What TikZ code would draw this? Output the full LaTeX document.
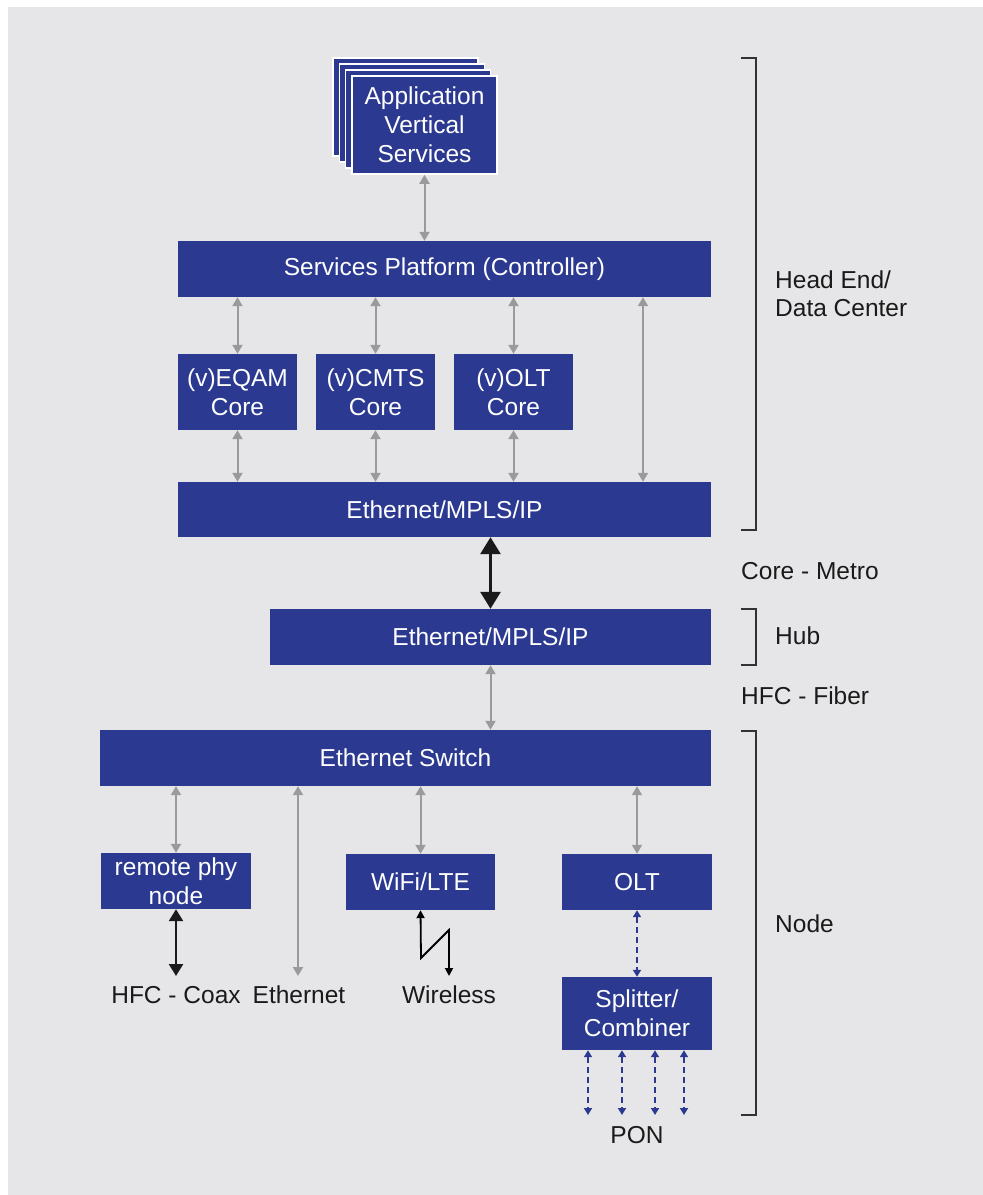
\documentclass[tikz,border=0pt]{standalone}
\usepackage{fontspec}
\setmainfont{Liberation Sans}
\usetikzlibrary{arrows.meta}
\definecolor{bg}{HTML}{E6E6E8}
\definecolor{cblue}{HTML}{2B3990}
\definecolor{agray}{HTML}{9A9A9A}
\definecolor{txt}{HTML}{1A1A1A}
\definecolor{brk}{HTML}{333333}
\begin{document}
\begin{tikzpicture}[x=1pt,y=-1pt,
 box/.style={fill=cblue,text=white,inner sep=0pt,align=center,font=\fontsize{24.5}{29}\selectfont},
 stackbox/.style={fill=cblue,draw=white,line width=1.5pt,minimum width=145pt,minimum height=98pt,inner sep=0pt},
 lbl/.style={text=txt,inner sep=0pt,align=left,font=\fontsize{24.5}{28}\selectfont},
 garrow/.style={draw=agray,line width=2pt,{Triangle[length=9pt,width=10pt]}-{Triangle[length=9pt,width=10pt]}},
 barrow/.style={draw=txt,line width=3pt,{Triangle[length=17pt,width=20pt]}-{Triangle[length=17pt,width=20pt]}},
 marrow/.style={draw=txt,line width=2.5pt,{Triangle[length=12pt,width=14pt]}-{Triangle[length=12pt,width=14pt]}},
 larrow/.style={draw=black,line width=1.8pt,{Triangle[length=8pt,width=8pt]}-{Triangle[length=8pt,width=8pt]}},
 darrow/.style={draw=cblue,line width=2pt,dash pattern=on 6pt off 4pt,{Triangle[length=7pt,width=8pt]}-{Triangle[length=7pt,width=8pt]}},
 bracket/.style={draw=brk,line width=2pt}
]
\fill[white] (0,0) rectangle (983,1195);
\fill[bg] (8,7) rectangle (983,1195);
\useasboundingbox (0,0) rectangle (983,1195);

% application stack
\node[stackbox] (app3) at (405.5,107) {};
\node[stackbox] (app2) at (411.8,113) {};
\node[stackbox] (app1) at (418,119) {};
\node[stackbox,box,draw=white,line width=1.5pt,minimum width=145pt,minimum height=98pt] (app) at (424.5,125) {Application\\Vertical\\Services};

% head end boxes
\node[box,minimum width=533pt,minimum height=56pt] (sp) at (444.5,269) {Services Platform (Controller)};
\node[box,minimum width=119pt,minimum height=76pt] (eqam) at (237.5,392) {(v)EQAM\\Core};
\node[box,minimum width=119pt,minimum height=76pt] (cmts) at (375.5,392) {(v)CMTS\\Core};
\node[box,minimum width=119pt,minimum height=76pt] (volt) at (513.5,392) {(v)OLT\\Core};
\node[box,minimum width=533pt,minimum height=55pt] (eth1) at (444.5,509.5) {Ethernet/MPLS/IP};
\node[box,minimum width=441pt,minimum height=56pt] (hub) at (490.5,637) {Ethernet/MPLS/IP};
\node[box,minimum width=611pt,minimum height=56pt] (sw) at (405.5,758) {Ethernet Switch};
\node[box,minimum width=150pt,minimum height=56pt] (rphy) at (176,881) {remote phy\\node};
\node[box,minimum width=149pt,minimum height=56pt] (wifi) at (420.5,882) {WiFi/LTE};
\node[box,minimum width=150pt,minimum height=56pt] (olt) at (637,882) {OLT};
\node[box,minimum width=150pt,minimum height=73pt] (spl) at (637,1013.5) {Splitter/\\Combiner};

% bottom labels
\node[lbl] (coax) at (176,995) {HFC - Coax};
\node[lbl] (ethl) at (299,995) {Ethernet};
\node[lbl] (wless) at (449,995) {Wireless};
\node[lbl] (pon) at (637,1135) {PON};

% right labels
\node[lbl,anchor=west] (he) at (775,294) {Head End/\\Data Center};
\node[lbl,anchor=west] (cm) at (741,571) {Core - Metro};
\node[lbl,anchor=west] (hubl) at (775,636) {Hub};
\node[lbl,anchor=west] (hfcf) at (741,696) {HFC - Fiber};
\node[lbl,anchor=west] (nodel) at (775,924) {Node};

% coordinates
\coordinate (xlong) at (643,0);
\coordinate (etht) at (298,976);
\coordinate (rpt) at (176,976);
\coordinate (lz1) at (421,958);
\coordinate (lz2) at (449,930);
\coordinate (lzt) at (449,976);
\coordinate (p1) at (588,1115);
\coordinate (p2) at (622,1115);
\coordinate (p3) at (655,1115);
\coordinate (p4) at (684,1115);

% gray arrows
\draw[garrow] (app.south) -- (sp.north -| app);
\draw[garrow] (sp.south -| eqam) -- (eqam.north);
\draw[garrow] (sp.south -| cmts) -- (cmts.north);
\draw[garrow] (sp.south -| volt) -- (volt.north);
\draw[garrow] (sp.south -| xlong) -- (eth1.north -| xlong);
\draw[garrow] (eqam.south) -- (eth1.north -| eqam);
\draw[garrow] (cmts.south) -- (eth1.north -| cmts);
\draw[garrow] (volt.south) -- (eth1.north -| volt);
\draw[garrow] (hub.south) -- (sw.north -| hub);
\draw[garrow] (sw.south -| rphy) -- (rphy.north);
\draw[garrow] (sw.south -| etht) -- (etht);
\draw[garrow] (sw.south -| wifi) -- (wifi.north);
\draw[garrow] (sw.south -| olt) -- (olt.north);

% black arrows
\draw[barrow] (eth1.south -| hub) -- (hub.north);
\draw[marrow] (rphy.south) -- (rpt);
\draw[larrow] (wifi.south) -- (lz1) -- (lz2) -- (lzt);

% dashed blue arrows
\draw[darrow] (olt.south) -- (spl.north);
\draw[darrow] (spl.south -| p1) -- (p1);
\draw[darrow] (spl.south -| p2) -- (p2);
\draw[darrow] (spl.south -| p3) -- (p3);
\draw[darrow] (spl.south -| p4) -- (p4);

% brackets
\draw[bracket] (741,58) -- (756,58) -- (756,530) -- (741,530);
\draw[bracket] (741,609) -- (756,609) -- (756,665) -- (741,665);
\draw[bracket] (741,731) -- (756,731) -- (756,1115) -- (741,1115);
\end{tikzpicture}
\end{document}
